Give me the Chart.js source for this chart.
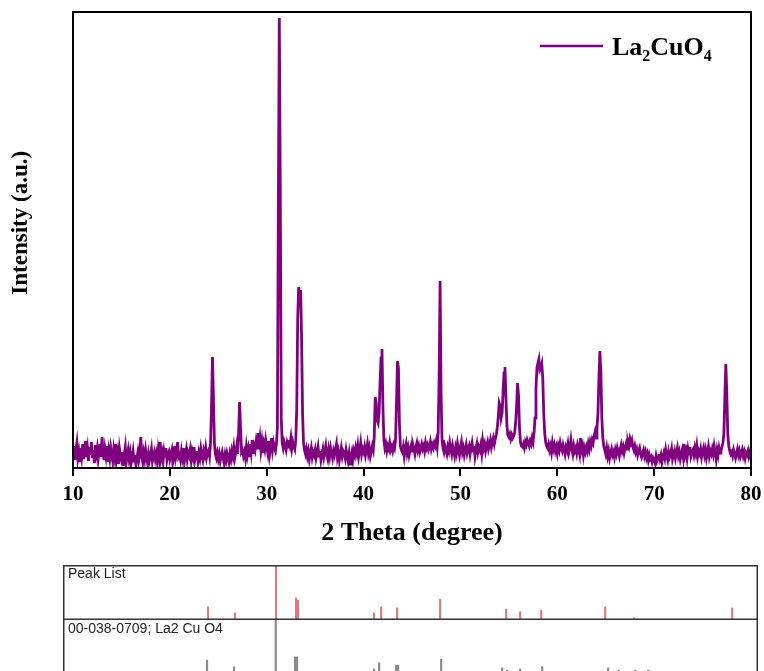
<!DOCTYPE html>
<html>
<head>
<meta charset="utf-8">
<script src="https://cdn.jsdelivr.net/npm/chart.js@4.4.1/dist/chart.umd.min.js"></script>
<style>
    html, body { margin: 0; padding: 0; background: #fff; overflow: hidden; width: 764px; height: 671px; }
    canvas { position: absolute; display: block; }
    #xrd { left: 0; top: 0; }
    #peakList { left: 63px; top: 565px; }
    #refCard { left: 63px; top: 620px; }
</style>
</head>
<body>
<canvas id="xrd" width="764" height="560"></canvas>
<canvas id="peakList" width="695" height="55"></canvas>
<canvas id="refCard" width="695" height="55"></canvas>

<script>
/* =========================
   DATA
========================= */
const startAngle = 10;
const angleStep = 0.1;

// intensity (a.u.), one row per degree: 10.0 ... 10.9, 11.0 ... 80.0
const intensity = [
    14, 22, 8, 18, 25, 10, 16, 6, 20, 12,
    24, 9, 17, 27, 11, 19, 7, 21, 13, 26,
    10, 18, 5, 23, 14, 20, 9, 16, 24, 11,
    31, 15, 8, 19, 12, 22, 6, 17, 10, 20,
    13, 7, 18, 11, 24, 9, 15, 4, 19, 12,
    8, 16, 2, 14, 21, 6, 12, 18, 9, 15,
    5, 11, 17, 7, 13, 3, 10, 16, 8, 14,
    31, 12, 6, 15, 9, 18, 11, 5, 14, 8,
    13, 19, 7, 12, 16, 9, 14, 6, 18, 11,
    26, 10, 15, 7, 17, 12, 20, 8, 13, 16,
    9, 14, 18, 6, 12, 22, 10, 15, 26, 11,
    13, 8, 17, 11, 20, 7, 14, 19, 9, 15,
    12, 18, 8, 16, 11, 21, 9, 14, 17, 7,
    15, 10, 19, 12, 8, 17, 13, 20, 11, 16,
    18, 12, 25, 60, 111, 70, 25, 14, 10, 15,
    9, 14, 7, 12, 16, 10, 5, 13, 8, 15,
    11, 6, 14, 9, 17, 12, 20, 10, 15, 22,
    14, 36, 66, 40, 16, 18, 12, 16, 10, 21,
    13, 19, 11, 24, 16, 28, 14, 22, 18, 26,
    20, 35, 22, 30, 18, 26, 15, 24, 19, 28,
    22, 16, 27, 14, 21, 30, 18, 25, 20, 17,
    24, 40, 260, 450, 280, 50, 25, 20, 26, 22,
    18, 25, 21, 28, 23, 30, 20, 26, 22, 19,
    28, 60, 150, 181, 168, 178, 130, 55, 25, 18,
    14, 19, 12, 17, 9, 15, 20, 11, 16, 13,
    18, 10, 15, 21, 12, 17, 8, 14, 19, 11,
    16, 22, 13, 9, 18, 12, 20, 15, 10, 17,
    13, 19, 24, 11, 16, 8, 14, 20, 12, 17,
    15, 10, 18, 12, 7, 14, 4, 11, 16, 9,
    17, 13, 20, 15, 22, 12, 18, 25, 14, 19,
    16, 21, 13, 18, 24, 15, 20, 12, 17, 22,
    18, 30, 71, 65, 48, 45, 55, 85, 110, 119,
    60, 28, 20, 24, 17, 22, 19, 25, 18, 21,
    17, 23, 20, 28, 65, 107, 100, 45, 22, 18,
    16, 21, 12, 19, 24, 15, 20, 13, 18, 22,
    17, 23, 19, 14, 21, 25, 18, 22, 16, 20,
    24, 19, 22, 17, 25, 20, 23, 18, 21, 26,
    19, 23, 20, 25, 22, 27, 21, 35, 90, 187,
    75, 28, 20, 16, 22, 18, 14, 21, 17, 25,
    19, 14, 22, 17, 12, 20, 15, 24, 18, 13,
    21, 26, 16, 20, 13, 18, 23, 15, 19, 22,
    14, 20, 25, 17, 22, 12, 19, 24, 16, 21,
    18, 23, 15, 27, 20, 24, 17, 22, 26, 19,
    23, 28, 21, 26, 30, 24, 29, 33, 40, 50,
    65, 62, 50, 55, 75, 95, 101, 70, 42, 33,
    31, 34, 29, 33, 30, 32, 36, 45, 62, 85,
    72, 40, 26, 22, 21, 24, 20, 26, 23, 28,
    25, 22, 27, 24, 30, 26, 35, 50, 80, 100,
    105, 109, 98, 100, 104, 90, 55, 35, 26, 22,
    20, 24, 18, 22, 16, 25, 19, 23, 17, 21,
    15, 22, 18, 25, 20, 17, 23, 19, 14, 21,
    18, 24, 16, 21, 28, 19, 14, 22, 17, 20,
    15, 23, 19, 14, 30, 18, 22, 13, 20, 16,
    21, 17, 24, 19, 26, 22, 28, 25, 32, 36,
    30, 40, 55, 90, 117, 95, 50, 30, 22, 18,
    14, 20, 12, 17, 10, 15, 19, 13, 16, 11,
    18, 14, 20, 16, 12, 19, 23, 17, 21, 15,
    20, 24, 19, 26, 22, 29, 25, 28, 21, 18,
    22, 16, 19, 13, 17, 20, 14, 11, 15, 18,
    12, 16, 10, 14, 8, 13, 9, 11, 6, 10,
    8, 5, 12, 7, 10, 14, 9, 13, 6, 11,
    15, 10, 18, 12, 8, 16, 11, 14, 19, 9,
    13, 17, 10, 15, 20, 12, 16, 9, 14, 18,
    11, 24, 13, 17, 10, 19, 14, 21, 12, 16,
    18, 13, 20, 15, 22, 12, 17, 14, 19, 11,
    16, 20, 13, 18, 10, 15, 21, 12, 17, 14,
    19, 14, 22, 16, 9, 18, 13, 20, 15, 17,
    21, 25, 34, 70, 104, 75, 35, 22, 17, 14,
    16, 12, 18, 14, 10, 15, 19, 13, 17, 11,
    14, 18, 12, 16, 10, 15, 13, 17, 11, 14,
    21
];

const xTicks = [10, 20, 30, 40, 50, 60, 70, 80];

// measured peak list (relative intensity, %)
const peakPos = [24.40, 27.13, 31.28, 33.30, 33.50, 41.18, 41.90, 43.52, 47.87, 54.54, 55.96, 58.08, 64.55, 67.48, 77.39];
const peakRel = [24, 13, 100, 40, 36, 13, 24, 22, 38, 20, 15, 18, 24, 4, 22];

// reference card 00-038-0709 La2CuO4 (relative intensity, %)
const refPos = [24.30, 27.03, 31.25, 33.20, 33.40, 41.19, 41.70, 43.41, 43.62, 47.97, 54.14, 54.64, 55.95, 58.18, 64.85, 65.90, 67.60, 68.90];
const refRel = [27, 15, 100, 33, 33, 11, 22, 18, 18, 29, 13, 9, 11, 15, 13, 9, 9, 9];

const twoTheta = intensity.map((_, i) => +(startAngle + i * angleStep).toFixed(1));

/* =========================
   GLOBAL
========================= */
Chart.defaults.font.family = "'Liberation Serif', 'Times New Roman', serif";
Chart.defaults.color = "#000";
Chart.defaults.animation = false;

const purple = "#800080";

/* =========================
   PLUGINS
========================= */
const frameBox = {
    id: "frameBox",
    afterDraw(chart) {
        const { ctx, chartArea: a } = chart;
        ctx.save();
        ctx.strokeStyle = "#000";
        ctx.lineWidth = 2;
        ctx.strokeRect(a.left, a.top, a.right - a.left, a.bottom - a.top);
        ctx.restore();
    }
};

// legend with subscripts: La2CuO4
const formulaLegend = {
    id: "formulaLegend",
    afterDraw(chart) {
        const ctx = chart.ctx;
        const y = 46;
        ctx.save();
        ctx.strokeStyle = purple;
        ctx.lineWidth = 2.5;
        ctx.beginPath();
        ctx.moveTo(540, y);
        ctx.lineTo(603, y);
        ctx.stroke();

        const parts = [["La", false], ["2", true], ["CuO", false], ["4", true]];
        let x = 612;
        ctx.fillStyle = "#000";
        ctx.textBaseline = "alphabetic";
        parts.forEach(([t, sub]) => {
            ctx.font = sub ? "bold 16px 'Liberation Serif'" : "bold 26px 'Liberation Serif'";
            ctx.fillText(t, x, sub ? 61 : 55);
            x += ctx.measureText(t).width;
        });
        ctx.restore();
    }
};

function panelFrame(label, drawTop) {
    return {
        id: "panelFrame",
        afterDraw(chart) {
            const { ctx, width, height } = chart;
            ctx.save();
            ctx.strokeStyle = "#333";
            ctx.lineWidth = 1.5;
            ctx.beginPath();
            if (drawTop) {
                ctx.moveTo(0, 0.75);
                ctx.lineTo(width, 0.75);
            }
            ctx.moveTo(0.75, 0);
            ctx.lineTo(0.75, height);
            ctx.moveTo(width - 0.75, 0);
            ctx.lineTo(width - 0.75, height);
            ctx.moveTo(0, height - 0.75);
            ctx.lineTo(width, height - 0.75);
            ctx.stroke();
            ctx.fillStyle = "#222";
            ctx.font = "14px 'Liberation Sans', Arial, sans-serif";
            ctx.textBaseline = "alphabetic";
            ctx.fillText(label, 5, 13);
            ctx.restore();
        }
    };
}

/* =========================
   XRD PATTERN
========================= */
new Chart(document.getElementById("xrd"), {
    type: "line",
    data: {
        datasets: [{
            label: "La2CuO4",
            data: intensity.map((v, i) => ({ x: twoTheta[i], y: v })),
            borderColor: purple,
            borderWidth: 2.8,
            pointRadius: 0,
            tension: 0
        }]
    },
    options: {
        responsive: false,
        layout: { padding: { top: 12, right: 13, left: 0, bottom: 0 } },
        plugins: {
            legend: { display: false },
            tooltip: { enabled: false }
        },
        scales: {
            x: {
                type: "linear",
                min: 10,
                max: 80,
                afterBuildTicks: (s) => { s.ticks = xTicks.map(v => ({ value: v })); },
                afterFit: (s) => {
                    s.height = 92;
                    s.paddingLeft = 0;
                    s.paddingRight = 0;
                },
                ticks: {
                    font: { size: 21, weight: "bold" },
                    color: "#000",
                    padding: 6
                },
                grid: {
                    drawOnChartArea: false,
                    color: "#000",
                    lineWidth: 2,
                    tickLength: 8
                },
                border: { color: "#000", width: 2 },
                title: {
                    display: true,
                    text: "2 Theta (degree)",
                    font: { size: 26, weight: "bold", lineHeight: 1.2 },
                    padding: { top: 4, bottom: 11 }
                }
            },
            y: {
                min: 0,
                max: 456,
                afterFit: (s) => { s.width = 73; },
                ticks: { display: false },
                grid: { display: false },
                border: { color: "#000", width: 2 },
                title: {
                    display: true,
                    text: "      Intensity (a.u.)",
                    font: { size: 23, weight: "bold", lineHeight: 1.2 },
                    padding: { top: 7, bottom: 0 }
                }
            }
        }
    },
    plugins: [frameBox, formulaLegend]
});

/* =========================
   PEAK LIST / REFERENCE
========================= */
function stickChart(id, pos, rel, color, label, drawTop) {
    return new Chart(document.getElementById(id), {
        type: "bar",
        data: {
            datasets: [{
                data: pos.map((x, i) => ({ x: x, y: rel[i] })),
                backgroundColor: color,
                barThickness: 1.5
            }]
        },
        options: {
            responsive: false,
            layout: { padding: 0 },
            plugins: {
                legend: { display: false },
                tooltip: { enabled: false }
            },
            scales: {
                x: { type: "linear", min: 9.74, max: 80, offset: false, display: false },
                y: { min: 0, max: 100, display: false }
            }
        },
        plugins: [panelFrame(label, drawTop)]
    });
}

stickChart("peakList", peakPos, peakRel, "#e07a7a", "Peak List", true);
stickChart("refCard", refPos, refRel, "#8a8a8a", "00-038-0709; La2 Cu O4", false);
</script>
</body>
</html>
